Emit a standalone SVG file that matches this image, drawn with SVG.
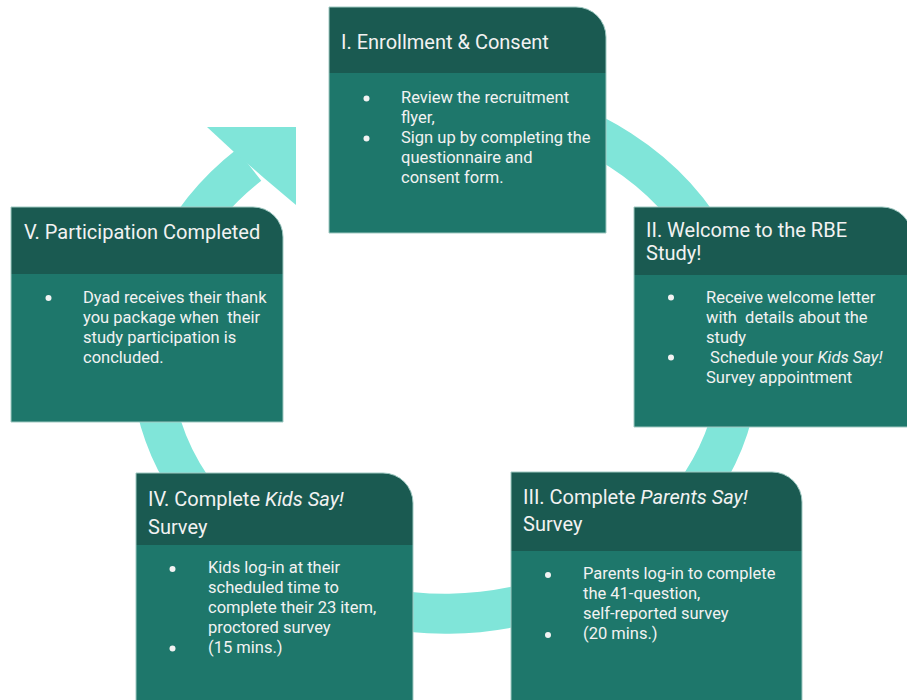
<svg xmlns="http://www.w3.org/2000/svg" width="907" height="700" viewBox="0 0 907 700">
<defs>
<style>
.hd{fill:#1a5a51;}
.bd{fill:#1e776b;}
.edge{fill:none;stroke:#9fc9c2;stroke-width:1;}
.ht{font-family:Roboto,"Liberation Sans",sans-serif;font-size:20px;fill:#f2f2f2;white-space:pre;}
.bt{font-family:Roboto,"Liberation Sans",sans-serif;font-size:16.5px;fill:#f2f2f2;white-space:pre;}
.bl{fill:#f2f2f2;}
.ring{fill:none;stroke:#80e5d9;stroke-width:40;}
.head{fill:#80e5d9;}
</style>
</defs>
<rect width="907" height="700" fill="#ffffff"/>
<g id="connectors">
<path class="ring" d="M 345,115 A 294.5 257 0 1 1 249,165"/>
<polygon class="head" points="207,127 296,127 296,205 264,178 234,152"/>
</g>
<g id="node-1">
<path class="bd" d="M329,73 H606 V233 H329 Z"/>
<path class="hd" d="M329,7 H576 A30 30 0 0 1 606,37 V73 H329 Z"/>
<path class="edge" d="M329,7 H576 A30 30 0 0 1 606,37 V233 H329 Z"/>
<text class="ht" x="341" y="48.5">I. Enrollment &amp; Consent</text>
<circle class="bl" cx="366.5" cy="98.5" r="3"/>
<circle class="bl" cx="366.5" cy="138.5" r="3"/>
<text class="bt" x="401" y="103">Review the recruitment</text>
<text class="bt" x="401" y="123">flyer,</text>
<text class="bt" x="401" y="143">Sign up by completing the</text>
<text class="bt" x="401" y="163">questionnaire and</text>
<text class="bt" x="401" y="183">consent form.</text>
</g>
<g id="node-2">
<path class="bd" d="M634,275 H912 V427 H634 Z"/>
<path class="hd" d="M634,207 H882 A30 30 0 0 1 912,237 V275 H634 Z"/>
<path class="edge" d="M634,207 H882 A30 30 0 0 1 912,237 V427 H634 Z"/>
<text class="ht" x="646" y="237">II. Welcome to the RBE</text>
<text class="ht" x="646" y="260">Study!</text>
<circle class="bl" cx="671" cy="297.5" r="3"/>
<circle class="bl" cx="671" cy="357.5" r="3"/>
<text class="bt" x="706" y="303">Receive welcome letter</text>
<text class="bt" x="706" y="323">with  details about the</text>
<text class="bt" x="706" y="343">study</text>
<text class="bt" x="706" y="363"> Schedule your <tspan font-style="italic">Kids Say!</tspan></text>
<text class="bt" x="706" y="383">Survey appointment</text>
</g>
<g id="node-3">
<path class="bd" d="M511,551 H802 V705 H511 Z"/>
<path class="hd" d="M511,472 H772 A30 30 0 0 1 802,502 V551 H511 Z"/>
<path class="edge" d="M511,472 H772 A30 30 0 0 1 802,502 V705 H511 Z"/>
<text class="ht" x="523" y="504">III. Complete <tspan font-style="italic">Parents Say!</tspan></text>
<text class="ht" x="523" y="531">Survey</text>
<circle class="bl" cx="548" cy="575" r="3"/>
<circle class="bl" cx="548" cy="635" r="3"/>
<text class="bt" x="583" y="579">Parents log-in to complete</text>
<text class="bt" x="583" y="599">the 41-question,</text>
<text class="bt" x="583" y="619">self-reported survey</text>
<text class="bt" x="583" y="639">(20 mins.)</text>
</g>
<g id="node-4">
<path class="bd" d="M136,545 H413 V705 H136 Z"/>
<path class="hd" d="M136,473 H383 A30 30 0 0 1 413,503 V545 H136 Z"/>
<path class="edge" d="M136,473 H383 A30 30 0 0 1 413,503 V705 H136 Z"/>
<text class="ht" x="148" y="506">IV. Complete <tspan font-style="italic">Kids Say!</tspan></text>
<text class="ht" x="148" y="534">Survey</text>
<circle class="bl" cx="172.5" cy="569" r="3"/>
<circle class="bl" cx="172.5" cy="648.5" r="3"/>
<text class="bt" x="208" y="573">Kids log-in at their</text>
<text class="bt" x="208" y="593">scheduled time to</text>
<text class="bt" x="208" y="613">complete their 23 item,</text>
<text class="bt" x="208" y="633">proctored survey</text>
<text class="bt" x="208" y="653">(15 mins.)</text>
</g>
<g id="node-5">
<path class="bd" d="M11,274 H283 V422 H11 Z"/>
<path class="hd" d="M11,207 H253 A30 30 0 0 1 283,237 V274 H11 Z"/>
<path class="edge" d="M11,207 H253 A30 30 0 0 1 283,237 V422 H11 Z"/>
<text class="ht" x="24" y="238.5">V. Participation Completed</text>
<circle class="bl" cx="48.5" cy="298" r="3"/>
<text class="bt" x="83" y="303">Dyad receives their thank</text>
<text class="bt" x="83" y="323">you package when  their</text>
<text class="bt" x="83" y="343">study participation is</text>
<text class="bt" x="83" y="363">concluded.</text>
</g>
</svg>
